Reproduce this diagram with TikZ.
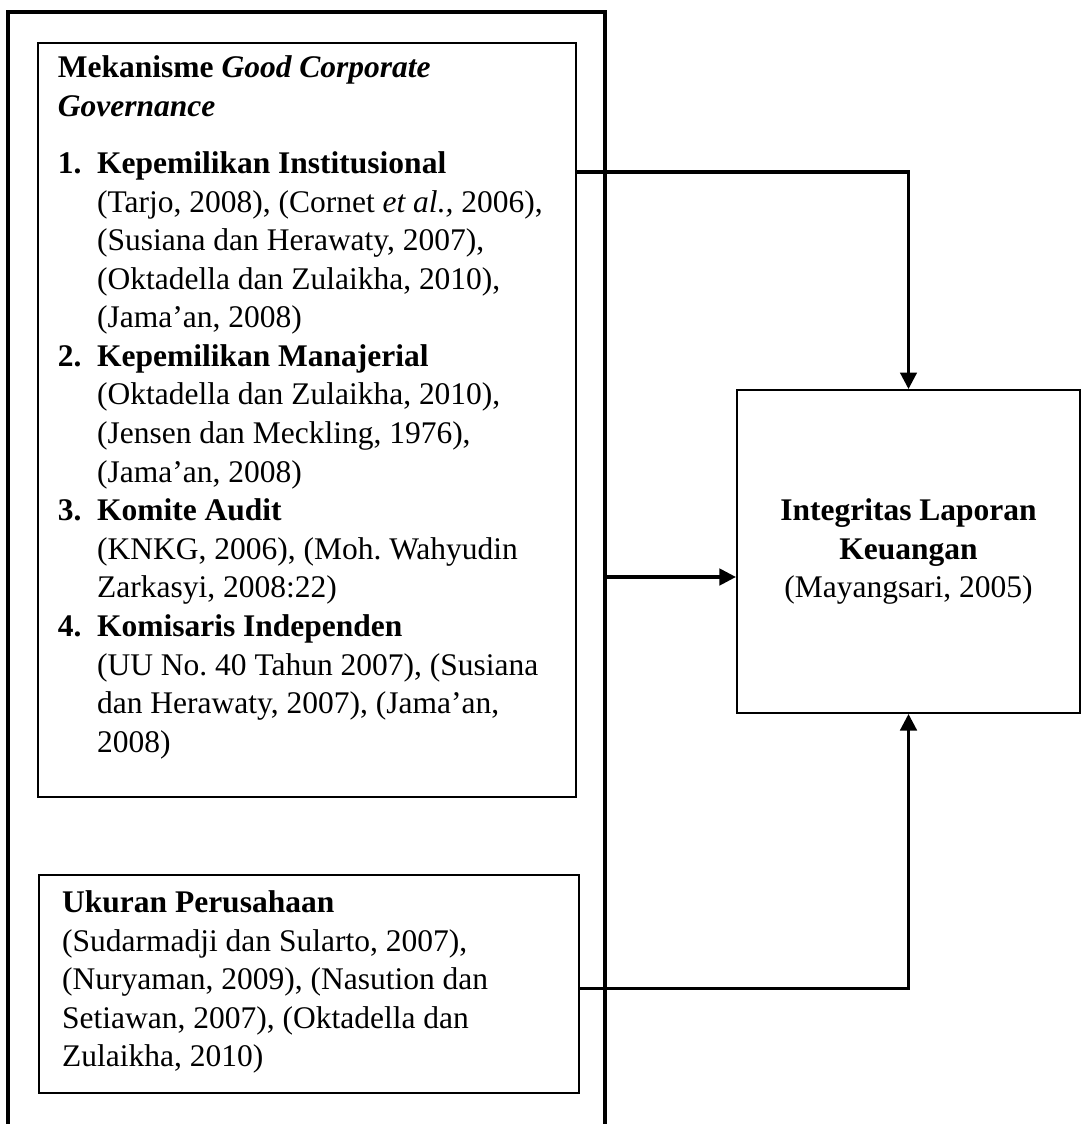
\documentclass[tikz,border=0pt]{standalone}
\usepackage{fontspec}
\setmainfont{Liberation Serif}
\usetikzlibrary{arrows.meta,positioning}
\frenchspacing

\newcommand{\gcgitem}[3]{\par{\leftskip=14.9pt\noindent\llap{\makebox[14.9pt][l]{\textbf{#1}}}\textbf{#2}\\#3\par}}

\tikzset{
  frameline/.style={line width=1.5pt},
  varbox/.style={draw, line width=0.8pt, inner xsep=7.6pt, inner ysep=0pt, anchor=north west},
  resultbox/.style={draw, line width=0.8pt, minimum width=130.7pt, minimum height=123pt, align=center},
  link/.style={line width=1.15pt, -{Triangle[length=6.3pt,width=6.3pt]}}
}

\begin{document}
\begin{tikzpicture}[x=0.381pt, y=-0.381pt, font=\fontsize{12pt}{14.7pt}\selectfont]
  \useasboundingbox (0,0) rectangle (1081,1124);
  % outer frame, open at the bottom
  \coordinate (fbl) at (8,1124);
  \coordinate (ftl) at (8,12);
  \coordinate (ftr) at (605,12);
  \coordinate (fbr) at (605,1124);
  \draw[frameline] (fbl) -- (ftl) -- (ftr) -- (fbr);

  % independent variables
  \node [varbox] (gcg) at (37,42) {\parbox[t][287.3pt][t]{189.8pt}{%
    \vspace*{3pt}%
    \strut\textbf{Mekanisme \textit{Good Corporate}}\\
    \textbf{\textit{Governance}}\par
    \vspace{7pt}%
    \gcgitem{1.}{Kepemilikan Institusional}{(Tarjo, 2008), (Cornet \textit{et al.,} 2006),\\
      (Susiana dan Herawaty, 2007),\\ (Oktadella dan Zulaikha, 2010),\\ (Jama’an, 2008)}%
    \gcgitem{2.}{Kepemilikan Manajerial}{(Oktadella dan Zulaikha, 2010),\\
      (Jensen dan Meckling, 1976),\\ (Jama’an, 2008)}%
    \gcgitem{3.}{Komite Audit}{(KNKG, 2006), (Moh. Wahyudin\\ Zarkasyi, 2008:22)}%
    \gcgitem{4.}{Komisaris Independen}{(UU No. 40 Tahun 2007), (Susiana\\
      dan Herawaty, 2007), (Jama’an,\\ 2008)}}};
  \node [varbox, inner xsep=8.8pt] (size) at (38,874) {\parbox[t][83pt][t]{188.1pt}{%
    \vspace*{4pt}%
    \strut\textbf{Ukuran Perusahaan}\\
    (Sudarmadji dan Sularto, 2007),\\
    (Nuryaman, 2009), (Nasution dan\\
    Setiawan, 2007), (Oktadella dan\\
    Zulaikha, 2010)}};

  % dependent variable
  \node [resultbox] (ilk) at (908.5,551.5) {\textbf{Integritas Laporan}\\ \textbf{Keuangan}\\ (Mayangsari, 2005)};

  \coordinate (gcgout) at (gcg.east |- 0,172);
  \coordinate (frameout) at (ftr |- 0,577);
  \coordinate (sizeout) at (size.east |- 0,988);
  \draw [link] (gcgout) -| (ilk.north);
  \draw [link] (frameout) -- (frameout -| ilk.west);
  \draw [link] (sizeout) -| (ilk.south);
\end{tikzpicture}
\end{document}
